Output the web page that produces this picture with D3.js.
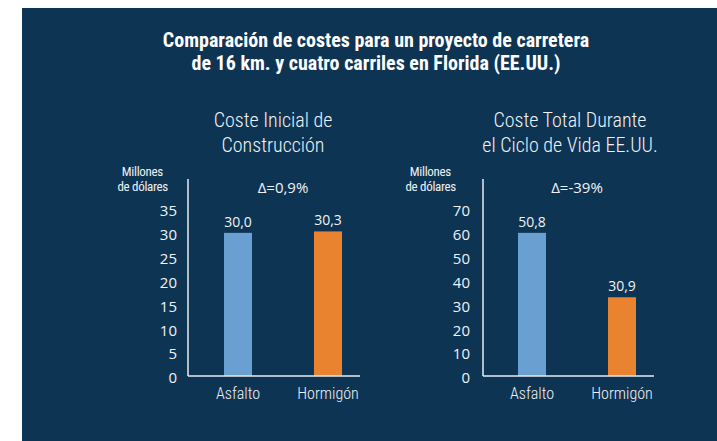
<!DOCTYPE html>
<html>
<head>
<meta charset="utf-8">
<script src="https://cdn.jsdelivr.net/npm/d3@7"></script>
<style>
  body { margin: 0; background: #ffffff; }
  svg { display: block; }
  .cond { font-family: "Roboto Condensed", "Liberation Sans Narrow", "DejaVu Sans Condensed", "DejaVu Sans", sans-serif; font-stretch: condensed; }
  .num { font-family: "Open Sans", "Noto Sans", sans-serif; }
</style>
</head>
<body>
<svg id="chart" width="717" height="441"></svg>
<script>
// data
const categories = ["Asfalto", "Hormigón"];
const initialValues = [30.0, 30.3];
const initialLabels = ["30,0", "30,3"];
const lifeValues = [60, 33];          // bar heights as drawn
const lifeLabels = ["50,8", "30,9"];  // printed labels
const initialTicks = [0, 5, 10, 15, 20, 25, 30, 35];
const lifeTicks = [0, 10, 20, 30, 40, 50, 60, 70];
const barColors = ["#6a9fd2", "#e9832f"];

const titleLines = ["Comparación de costes para un proyecto de carretera", "de 16 km. y cuatro carriles en Florida (EE.UU.)"];

const panels = [
    { title: ["Coste Inicial de", "Construcción"], delta: "Δ=0,9%", values: initialValues, labels: initialLabels,
      ticks: initialTicks, max: 35, axisX: 188, axisEnd: 360, first: 238, titleX: 273, deltaX: 283, unitX: 168 },
    { title: ["Coste Total Durante", "el Ciclo de Vida EE.UU."], delta: "Δ=-39%", values: lifeValues, labels: lifeLabels,
      ticks: lifeTicks, max: 70, axisX: 483, axisEnd: 654, first: 532, titleX: 570, deltaX: 577, unitX: 456 }
];

const txt = "#eef2f6";
const svg = d3.select("#chart");

svg.append("rect")
    .attr("x", 22).attr("y", 8)
    .attr("width", 695).attr("height", 433)
    .attr("fill", "#0e3453");

svg.selectAll(".main-title")
    .data(titleLines)
    .join("text")
    .attr("class", "main-title cond")
    .attr("x", 376)
    .attr("y", (d, i) => 47 + i * 23)
    .attr("text-anchor", "middle")
    .attr("fill", "#ffffff")
    .attr("font-weight", "bold")
    .attr("font-size", 20)
    .text(d => d);

const baseY = 376, topY = 209;

panels.forEach(p => {
    const g = svg.append("g");
    const y = d3.scaleLinear().domain([0, p.max]).range([baseY, topY]);
    const x = d3.scalePoint().domain(categories).range([p.first, p.first + 90]);
    const barW = 28;

    g.selectAll(".sub")
        .data(p.title)
        .join("text")
        .attr("class", "cond")
        .attr("x", p.titleX)
        .attr("y", (d, i) => 127 + i * 25)
        .attr("text-anchor", "middle")
        .attr("fill", txt)
        .attr("font-size", 20)
        .attr("font-weight", 300)
        .text(d => d);

    g.selectAll(".unit")
        .data(["Millones", "de dólares"])
        .join("text")
        .attr("class", "cond")
        .attr("x", (d, i) => i === 0 ? p.unitX - 5 : p.unitX)
        .attr("y", (d, i) => 176 + i * 15)
        .attr("text-anchor", "end")
        .attr("fill", txt)
        .attr("font-size", 13)
        .attr("letter-spacing", -0.3)
        .text(d => d);

    g.append("text")
        .attr("class", "num")
        .attr("x", p.deltaX)
        .attr("y", 193)
        .attr("text-anchor", "middle")
        .attr("fill", txt)
        .attr("font-size", 15)
        .text(p.delta);

    const yAxis = g.append("g")
        .attr("transform", `translate(${p.axisX},0)`)
        .call(d3.axisLeft(y).tickValues(p.ticks).tickSize(0).tickPadding(p.axisX === 188 ? 11 : 13));
    yAxis.select(".domain").remove();
    yAxis.selectAll("text")
        .attr("class", "num")
        .attr("fill", txt)
        .attr("font-size", 15)
        .attr("dy", "0.45em");

    g.selectAll(".bar")
        .data(p.values)
        .join("rect")
        .attr("x", (d, i) => x(categories[i]) - barW / 2)
        .attr("y", d => y(d))
        .attr("width", barW)
        .attr("height", d => baseY - y(d))
        .attr("fill", (d, i) => barColors[i]);

    g.selectAll(".val")
        .data(p.values)
        .join("text")
        .attr("class", "num")
        .attr("x", (d, i) => x(categories[i]))
        .attr("y", d => y(d) - 6)
        .attr("text-anchor", "middle")
        .attr("fill", txt)
        .attr("font-size", 14)
        .text((d, i) => p.labels[i]);

    g.selectAll(".cat")
        .data(categories)
        .join("text")
        .attr("class", "cond")
        .attr("x", d => x(d))
        .attr("y", 399)
        .attr("text-anchor", "middle")
        .attr("fill", txt)
        .attr("font-size", 16)
        .attr("font-weight", 300)
        .text(d => d);

    g.append("line")
        .attr("x1", p.axisX).attr("y1", 179)
        .attr("x2", p.axisX).attr("y2", baseY)
        .attr("stroke", "#e6ecf2").attr("stroke-width", 1.5);
    g.append("line")
        .attr("x1", p.axisX).attr("y1", baseY)
        .attr("x2", p.axisEnd).attr("y2", baseY)
        .attr("stroke", "#e6ecf2").attr("stroke-width", 1.5);
});
</script>
</body>
</html>
